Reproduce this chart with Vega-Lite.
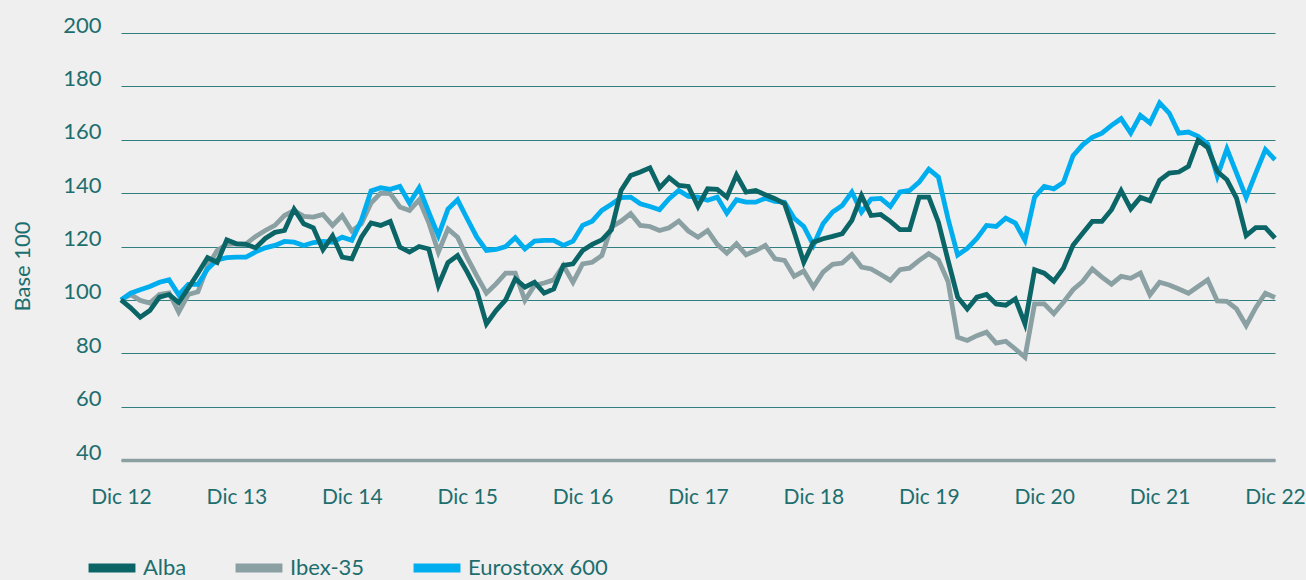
{
  "$schema": "https://vega.github.io/schema/vega-lite/v6.json",
  "width": 1154,
  "height": 427,
  "autosize": "none",
  "padding": {"left": 121, "top": 33, "right": 31, "bottom": 120},
  "background": "#efefef",
  "config": {
    "view": {"stroke": null},
    "font": "Lato"
  },
  "data": {
    "values": [
      {"m":0,"Alba":100,"Ibex-35":100,"Eurostoxx 600":100},
      {"m":1,"Alba":97,"Ibex-35":102,"Eurostoxx 600":102.5},
      {"m":2,"Alba":93.5,"Ibex-35":99.8,"Eurostoxx 600":103.8},
      {"m":3,"Alba":96,"Ibex-35":98.8,"Eurostoxx 600":105},
      {"m":4,"Alba":101,"Ibex-35":102,"Eurostoxx 600":106.6},
      {"m":5,"Alba":102,"Ibex-35":102.6,"Eurostoxx 600":107.5},
      {"m":6,"Alba":99,"Ibex-35":95.4,"Eurostoxx 600":101.9},
      {"m":7,"Alba":104.4,"Ibex-35":102,"Eurostoxx 600":105.8},
      {"m":8,"Alba":110,"Ibex-35":103,"Eurostoxx 600":105.8},
      {"m":9,"Alba":115.8,"Ibex-35":112.5,"Eurostoxx 600":111.6},
      {"m":10,"Alba":114,"Ibex-35":118.5,"Eurostoxx 600":115},
      {"m":11,"Alba":122.5,"Ibex-35":120.8,"Eurostoxx 600":115.8},
      {"m":12,"Alba":121,"Ibex-35":121,"Eurostoxx 600":116},
      {"m":13,"Alba":120.8,"Ibex-35":121,"Eurostoxx 600":116},
      {"m":14,"Alba":119.5,"Ibex-35":123.8,"Eurostoxx 600":118},
      {"m":15,"Alba":123,"Ibex-35":126,"Eurostoxx 600":119.5},
      {"m":16,"Alba":125.3,"Ibex-35":127.9,"Eurostoxx 600":120.4},
      {"m":17,"Alba":126,"Ibex-35":131.6,"Eurostoxx 600":121.9},
      {"m":18,"Alba":134,"Ibex-35":133.5,"Eurostoxx 600":121.6},
      {"m":19,"Alba":128.5,"Ibex-35":131.3,"Eurostoxx 600":120.4},
      {"m":20,"Alba":127,"Ibex-35":131,"Eurostoxx 600":121.5},
      {"m":21,"Alba":118.8,"Ibex-35":132,"Eurostoxx 600":121.9},
      {"m":22,"Alba":124,"Ibex-35":127.9,"Eurostoxx 600":121.6},
      {"m":23,"Alba":116,"Ibex-35":131.6,"Eurostoxx 600":123.5},
      {"m":24,"Alba":115.4,"Ibex-35":125.8,"Eurostoxx 600":122.3},
      {"m":25,"Alba":123.5,"Ibex-35":128.5,"Eurostoxx 600":129.8},
      {"m":26,"Alba":128.8,"Ibex-35":136.3,"Eurostoxx 600":140.8},
      {"m":27,"Alba":127.9,"Ibex-35":140,"Eurostoxx 600":142},
      {"m":28,"Alba":129.4,"Ibex-35":139.8,"Eurostoxx 600":141.4},
      {"m":29,"Alba":119.8,"Ibex-35":134.8,"Eurostoxx 600":142.5},
      {"m":30,"Alba":117.9,"Ibex-35":133.5,"Eurostoxx 600":136.3},
      {"m":31,"Alba":120,"Ibex-35":137.5,"Eurostoxx 600":142},
      {"m":32,"Alba":119.1,"Ibex-35":129,"Eurostoxx 600":132.9},
      {"m":33,"Alba":105.4,"Ibex-35":117.9,"Eurostoxx 600":124.1},
      {"m":34,"Alba":114,"Ibex-35":126.6,"Eurostoxx 600":134},
      {"m":35,"Alba":116.6,"Ibex-35":123.5,"Eurostoxx 600":137.5},
      {"m":36,"Alba":110.4,"Ibex-35":115.8,"Eurostoxx 600":130.4},
      {"m":37,"Alba":103.5,"Ibex-35":109,"Eurostoxx 600":123.5},
      {"m":38,"Alba":91,"Ibex-35":102.5,"Eurostoxx 600":118.5},
      {"m":39,"Alba":96,"Ibex-35":106,"Eurostoxx 600":118.9},
      {"m":40,"Alba":100,"Ibex-35":110,"Eurostoxx 600":120},
      {"m":41,"Alba":107.9,"Ibex-35":110,"Eurostoxx 600":123.3},
      {"m":42,"Alba":104.8,"Ibex-35":99.8,"Eurostoxx 600":119.1},
      {"m":43,"Alba":106.6,"Ibex-35":105.4,"Eurostoxx 600":122},
      {"m":44,"Alba":102.5,"Ibex-35":106.3,"Eurostoxx 600":122.3},
      {"m":45,"Alba":104.1,"Ibex-35":107.5,"Eurostoxx 600":122.3},
      {"m":46,"Alba":112.9,"Ibex-35":112.9,"Eurostoxx 600":120.4},
      {"m":47,"Alba":113.5,"Ibex-35":106.6,"Eurostoxx 600":122},
      {"m":48,"Alba":118.5,"Ibex-35":113.5,"Eurostoxx 600":127.9},
      {"m":49,"Alba":120.8,"Ibex-35":114.1,"Eurostoxx 600":129.5},
      {"m":50,"Alba":122.5,"Ibex-35":116.6,"Eurostoxx 600":133.5},
      {"m":51,"Alba":126.3,"Ibex-35":127.3,"Eurostoxx 600":135.8},
      {"m":52,"Alba":141,"Ibex-35":129.5,"Eurostoxx 600":138.3},
      {"m":53,"Alba":146.6,"Ibex-35":132.3,"Eurostoxx 600":138.5},
      {"m":54,"Alba":147.9,"Ibex-35":127.9,"Eurostoxx 600":136},
      {"m":55,"Alba":149.5,"Ibex-35":127.5,"Eurostoxx 600":135},
      {"m":56,"Alba":142,"Ibex-35":126,"Eurostoxx 600":133.8},
      {"m":57,"Alba":145.8,"Ibex-35":127,"Eurostoxx 600":137.9},
      {"m":58,"Alba":142.9,"Ibex-35":129.5,"Eurostoxx 600":141},
      {"m":59,"Alba":142.5,"Ibex-35":125.8,"Eurostoxx 600":138.8},
      {"m":60,"Alba":135,"Ibex-35":123.5,"Eurostoxx 600":138.5},
      {"m":61,"Alba":141.6,"Ibex-35":126,"Eurostoxx 600":137.3},
      {"m":62,"Alba":141.4,"Ibex-35":120.8,"Eurostoxx 600":138.5},
      {"m":63,"Alba":138.5,"Ibex-35":117.5,"Eurostoxx 600":132.5},
      {"m":64,"Alba":146.8,"Ibex-35":121,"Eurostoxx 600":137.5},
      {"m":65,"Alba":140.4,"Ibex-35":116.9,"Eurostoxx 600":136.6},
      {"m":66,"Alba":141,"Ibex-35":118.5,"Eurostoxx 600":136.6},
      {"m":67,"Alba":139.4,"Ibex-35":120.4,"Eurostoxx 600":138.1},
      {"m":68,"Alba":137.9,"Ibex-35":115.4,"Eurostoxx 600":136.9},
      {"m":69,"Alba":136,"Ibex-35":114.8,"Eurostoxx 600":136.6},
      {"m":70,"Alba":125.4,"Ibex-35":108.8,"Eurostoxx 600":130.6},
      {"m":71,"Alba":114.1,"Ibex-35":110.8,"Eurostoxx 600":127.5},
      {"m":72,"Alba":121.6,"Ibex-35":104.8,"Eurostoxx 600":120.5},
      {"m":73,"Alba":122.9,"Ibex-35":110.4,"Eurostoxx 600":128.5},
      {"m":74,"Alba":123.8,"Ibex-35":113.3,"Eurostoxx 600":132.9},
      {"m":75,"Alba":124.8,"Ibex-35":113.8,"Eurostoxx 600":135.4},
      {"m":76,"Alba":129.8,"Ibex-35":117,"Eurostoxx 600":140.4},
      {"m":77,"Alba":139.1,"Ibex-35":112.3,"Eurostoxx 600":132.9},
      {"m":78,"Alba":131.6,"Ibex-35":111.6,"Eurostoxx 600":137.8},
      {"m":79,"Alba":132,"Ibex-35":109.5,"Eurostoxx 600":138},
      {"m":80,"Alba":129.4,"Ibex-35":107.3,"Eurostoxx 600":135},
      {"m":81,"Alba":126.3,"Ibex-35":111.3,"Eurostoxx 600":140.4},
      {"m":82,"Alba":126.3,"Ibex-35":111.9,"Eurostoxx 600":141},
      {"m":83,"Alba":138.5,"Ibex-35":114.8,"Eurostoxx 600":144.1},
      {"m":84,"Alba":138.5,"Ibex-35":117.3,"Eurostoxx 600":149},
      {"m":85,"Alba":129.1,"Ibex-35":115,"Eurostoxx 600":146},
      {"m":86,"Alba":114.8,"Ibex-35":106.9,"Eurostoxx 600":130.4},
      {"m":87,"Alba":101,"Ibex-35":86,"Eurostoxx 600":116.8},
      {"m":88,"Alba":96.6,"Ibex-35":84.8,"Eurostoxx 600":119.3},
      {"m":89,"Alba":101,"Ibex-35":86.6,"Eurostoxx 600":123},
      {"m":90,"Alba":102,"Ibex-35":87.9,"Eurostoxx 600":127.9},
      {"m":91,"Alba":98.5,"Ibex-35":83.8,"Eurostoxx 600":127.5},
      {"m":92,"Alba":98,"Ibex-35":84.5,"Eurostoxx 600":130.6},
      {"m":93,"Alba":100.4,"Ibex-35":81.6,"Eurostoxx 600":128.8},
      {"m":94,"Alba":91,"Ibex-35":78.5,"Eurostoxx 600":122.3},
      {"m":95,"Alba":111.3,"Ibex-35":98.5,"Eurostoxx 600":138.5},
      {"m":96,"Alba":110,"Ibex-35":98.5,"Eurostoxx 600":142.5},
      {"m":97,"Alba":107,"Ibex-35":94.8,"Eurostoxx 600":141.6},
      {"m":98,"Alba":111.9,"Ibex-35":99.1,"Eurostoxx 600":144},
      {"m":99,"Alba":120.5,"Ibex-35":103.8,"Eurostoxx 600":154},
      {"m":100,"Alba":125,"Ibex-35":106.9,"Eurostoxx 600":158.1},
      {"m":101,"Alba":129.4,"Ibex-35":111.6,"Eurostoxx 600":160.9},
      {"m":102,"Alba":129.4,"Ibex-35":108.5,"Eurostoxx 600":162.5},
      {"m":103,"Alba":133.8,"Ibex-35":105.9,"Eurostoxx 600":165.4},
      {"m":104,"Alba":140.9,"Ibex-35":108.8,"Eurostoxx 600":167.9},
      {"m":105,"Alba":134.1,"Ibex-35":108.1,"Eurostoxx 600":162.5},
      {"m":106,"Alba":138.4,"Ibex-35":110,"Eurostoxx 600":169.1},
      {"m":107,"Alba":137.1,"Ibex-35":101.9,"Eurostoxx 600":166.3},
      {"m":108,"Alba":144.8,"Ibex-35":106.6,"Eurostoxx 600":173.8},
      {"m":109,"Alba":147.5,"Ibex-35":105.6,"Eurostoxx 600":170},
      {"m":110,"Alba":147.9,"Ibex-35":104.1,"Eurostoxx 600":162.5},
      {"m":111,"Alba":150,"Ibex-35":102.5,"Eurostoxx 600":162.9},
      {"m":112,"Alba":159.8,"Ibex-35":105,"Eurostoxx 600":161.3},
      {"m":113,"Alba":157.1,"Ibex-35":107.5,"Eurostoxx 600":158.4},
      {"m":114,"Alba":148.1,"Ibex-35":99.6,"Eurostoxx 600":146.3},
      {"m":115,"Alba":145,"Ibex-35":99.4,"Eurostoxx 600":156.6},
      {"m":116,"Alba":138.1,"Ibex-35":96.6,"Eurostoxx 600":147.5},
      {"m":117,"Alba":124.1,"Ibex-35":90.4,"Eurostoxx 600":138.4},
      {"m":118,"Alba":127.1,"Ibex-35":97.1,"Eurostoxx 600":147.5},
      {"m":119,"Alba":127.1,"Ibex-35":102.5,"Eurostoxx 600":156.3},
      {"m":120,"Alba":123.1,"Ibex-35":100.9,"Eurostoxx 600":152.5}
    ]
  },
  "transform": [
    {"fold": ["Ibex-35", "Eurostoxx 600", "Alba"], "as": ["serie", "valor"]}
  ],
  "mark": {"type": "line", "strokeWidth": 4.8, "strokeJoin": "miter", "strokeCap": "butt"},
  "encoding": {
    "x": {
      "field": "m",
      "type": "quantitative",
      "scale": {"domain": [0, 120], "nice": false, "zero": false},
      "axis": {
        "values": [0, 12, 24, 36, 48, 60, 72, 84, 96, 108, 120],
        "labelExpr": "'Dic ' + (12 + datum.value / 12)",
        "title": null,
        "grid": false,
        "ticks": false,
        "domain": true,
        "domainColor": "#8c9fa2",
        "domainWidth": 3.5,
        "labelFont": "Lato",
        "labelFontSize": 21,
        "labelColor": "#1d6e6e",
        "labelPadding": 26,
        "labelBound": false,
        "labelFlush": false
      }
    },
    "y": {
      "field": "valor",
      "type": "quantitative",
      "scale": {"domain": [40, 200], "nice": false, "zero": false},
      "axis": {
        "values": [40, 60, 80, 100, 120, 140, 160, 180, 200],
        "title": "Base 100",
        "titleFont": "Lato",
        "titleFontSize": 22,
        "titleFontWeight": "normal",
        "titleColor": "#1d6e6e",
        "titleX": -99,
        "titleY": 233,
        "titleAlign": "center",
        "titleBaseline": "middle",
        "domain": false,
        "ticks": false,
        "grid": true,
        "gridColor": "#2f7f80",
        "gridWidth": 1.2,
        "labelFont": "Lato",
        "labelFontSize": 22,
        "labelColor": "#1d6e6e",
        "labelPadding": 20,
        "labelOffset": -8
      }
    },
    "color": {
      "field": "serie",
      "type": "nominal",
      "scale": {
        "domain": ["Alba", "Ibex-35", "Eurostoxx 600"],
        "range": ["#0b6566", "#8ba0a3", "#00aeef"]
      },
      "legend": {
        "title": null,
        "orient": "none",
        "direction": "horizontal",
        "legendX": -37,
        "legendY": 507,
        "symbolType": "stroke",
        "symbolSize": 2200,
        "symbolStrokeWidth": 9,
        "labelFont": "Lato",
        "labelFontSize": 22,
        "labelColor": "#1d6e6e",
        "labelOffset": 3,
        "columnPadding": 30
      }
    }
  }
}
